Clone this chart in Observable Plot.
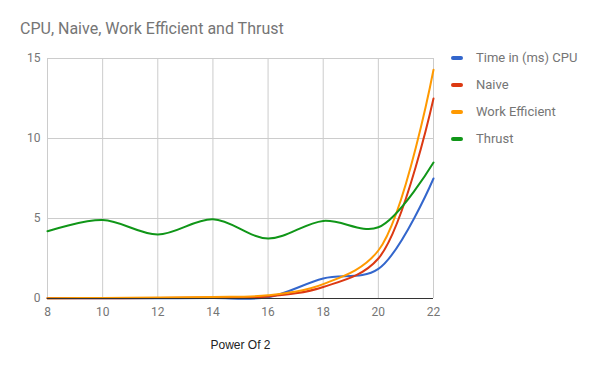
<!DOCTYPE html>
<html>
<head>
<meta charset="utf-8">
<script src="https://cdn.jsdelivr.net/npm/d3@7"></script>
<script src="https://cdn.jsdelivr.net/npm/@observablehq/plot@0.6"></script>
<style>
  body { margin: 0; background: #fff; }
  #wrap { position: relative; width: 600px; height: 371px; font-family: Roboto, Arial, sans-serif; }
  #title { position: absolute; left: 20px; top: 19px; font-size: 16px; color: #757575; white-space: nowrap; }
  #legend { position: absolute; left: 451px; top: 44px; font-size: 13px; color: #757575; }
  .row { height: 27px; display: flex; align-items: center; }
  .sw { width: 12px; height: 4px; border-radius: 2px; margin-right: 13px; }
  #chart { position: absolute; left: 0; top: 0; }
</style>
</head>
<body>
<div id="wrap">
  <div id="chart"></div>
  <div id="title">CPU, Naive, Work Efficient and Thrust</div>
  <div id="legend"></div>
</div>
<script>
const powers = [8, 10, 12, 14, 16, 18, 20, 22];
const seriesNames = ["Time in (ms) CPU", "Naive", "Work Efficient", "Thrust"];
const seriesColors = ["#3366cc", "#dc3912", "#ff9900", "#109618"];
const cpu = [0.01, 0.01, 0.02, 0.03, 0.08, 1.25, 1.85, 7.5];
const naive = [0.01, 0.02, 0.03, 0.06, 0.12, 0.72, 2.5, 12.5];
const workEfficient = [0.02, 0.03, 0.06, 0.1, 0.2, 0.9, 3.0, 14.3];
const thrust = [4.2, 4.9, 4.0, 4.95, 3.75, 4.85, 4.45, 8.5];
const yTicks = [0, 5, 10, 15];
const xTicks = [8, 10, 12, 14, 16, 18, 20, 22];
const xLabel = "Power Of 2";

const allSeries = [cpu, naive, workEfficient, thrust];
const data = [];
allSeries.forEach((vals, i) => {
  vals.forEach((v, j) => data.push({series: seriesNames[i], x: powers[j], y: v}));
});

const plot = Plot.plot({
  width: 600,
  height: 371,
  marginLeft: 47,
  marginRight: 167,
  marginTop: 58,
  marginBottom: 73,
  style: {fontFamily: "Roboto, Arial, sans-serif", fontSize: "12px", color: "#757575", background: "transparent"},
  x: {domain: [8, 22], ticks: xTicks, tickSize: 0, tickPadding: 9, label: null},
  y: {domain: [0, 15], ticks: yTicks, tickSize: 0, tickPadding: 7, label: null},
  color: {domain: seriesNames, range: seriesColors},
  marks: [
    Plot.gridX(xTicks, {stroke: "#cccccc", strokeOpacity: 1}),
    Plot.gridY(yTicks.filter(d => d > 0), {stroke: "#cccccc", strokeOpacity: 1}),
    Plot.axisX({ticks: xTicks, tickSize: 0, tickPadding: 9, label: null, fill: "#757575"}),
    Plot.axisY({ticks: yTicks, tickSize: 0, tickPadding: 7, label: null, fill: "#757575"}),
    Plot.line(data, {x: "x", y: "y", z: "series", stroke: "series", strokeWidth: 2, curve: "catmull-rom"}),
    Plot.ruleY([0], {stroke: "#333333"}),
    Plot.text([xLabel], {frameAnchor: "bottom", dy: 50, fill: "#222222", fontSize: 12, fontFamily: "Arial, sans-serif"})
  ]
});
document.getElementById("chart").appendChild(plot);

const legend = document.getElementById("legend");
seriesNames.forEach((n, i) => {
  const row = document.createElement("div");
  row.className = "row";
  const sw = document.createElement("div");
  sw.className = "sw";
  sw.style.background = seriesColors[i];
  const t = document.createElement("span");
  t.textContent = n;
  row.appendChild(sw);
  row.appendChild(t);
  legend.appendChild(row);
});
</script>
</body>
</html>
